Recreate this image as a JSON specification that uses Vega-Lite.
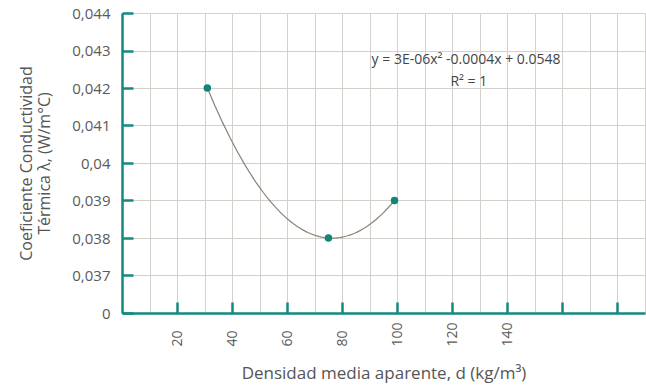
{
  "$schema": "https://vega.github.io/schema/vega-lite/v6.json",
  "width": 523,
  "height": 300,
  "autosize": {"type": "none"},
  "padding": {"left": 122, "top": 13, "right": 1, "bottom": 75},
  "background": "white",
  "config": {
    "view": {"stroke": null},
    "font": "Open Sans",
    "axis": {"labelFont": "Open Sans", "titleFont": "Open Sans", "labelColor": "#5a5a5a", "titleColor": "#555555", "titleFontWeight": "normal"}
  },
  "datasets": {
    "pts": [
      {"d": 31, "lambda": 0.042},
      {"d": 75, "lambda": 0.038},
      {"d": 99, "lambda": 0.039}
    ],
    "eq": [
      {"d": 125, "lambda": 0.04275, "label": "y = 3E-06x² -0.0004x + 0.0548"},
      {"d": 126, "lambda": 0.04215, "label": "R² = 1"}
    ]
  },
  "layer": [
    {
      "data": {"name": "pts"},
      "transform": [
        {"regression": "lambda", "on": "d", "method": "poly", "order": 2, "extent": [31, 99]}
      ],
      "mark": {"type": "line", "color": "#8a8078", "strokeWidth": 1.2},
      "encoding": {
        "x": {
          "field": "d", "type": "quantitative",
          "scale": {"domain": [0, 190], "nice": false, "zero": false},
          "axis": {
            "values": [0, 10, 20, 30, 40, 50, 60, 70, 80, 90, 100, 110, 120, 130, 140, 150, 160, 170, 180, 190],
            "tickCount": 100,
            "grid": true, "gridColor": "#d4d0cc", "gridWidth": 1,
            "domainColor": "#138a7e", "domainWidth": 2.5,
            "tickSize": -11, "tickWidth": 2.5,
            "tickColor": {"condition": {"test": "datum.value % 20 === 0 && datum.value > 0 && datum.value < 190", "value": "#138a7e"}, "value": "transparent"},
            "labelExpr": "(datum.value >= 20 && datum.value <= 140 && datum.value % 20 === 0) ? '' + datum.value : ''",
            "labelAngle": -90, "labelAlign": "left", "labelBaseline": "middle",
            "labelPadding": 44, "labelFontSize": 14, "labelFlush": false, "labelOverlap": false,
            "title": "Densidad media aparente, d (kg/m³)", "titleFontSize": 17, "titlePadding": 19
          }
        },
        "y": {
          "field": "lambda", "type": "quantitative",
          "scale": {"domain": [0.036, 0.044], "nice": false, "zero": false},
          "axis": {
            "values": [0.036, 0.037, 0.038, 0.039, 0.04, 0.041, 0.042, 0.043, 0.044],
            "tickCount": 100,
            "grid": true, "gridColor": "#d4d0cc", "gridWidth": 1,
            "domainColor": "#138a7e", "domainWidth": 2.5,
            "tickSize": -11, "tickWidth": 2.5, "tickColor": "#138a7e",
            "labelExpr": "datum.value < 0.0365 ? '0' : replace(format(datum.value, '.3~f'), '.', ',')",
            "labelFontSize": 15, "labelPadding": 23, "labelFlush": false, "labelOverlap": false,
            "title": ["Coeficiente Conductividad", "Térmica λ, (W/m°C)"], "titleFontSize": 16, "titlePadding": 19
          }
        }
      }
    },
    {
      "data": {"name": "pts"},
      "mark": {"type": "point", "filled": true, "color": "#118579", "opacity": 1, "size": 56},
      "encoding": {
        "x": {"field": "d", "type": "quantitative"},
        "y": {"field": "lambda", "type": "quantitative"}
      }
    },
    {
      "data": {"name": "eq"},
      "mark": {"type": "text", "fontSize": 14, "color": "#444444", "align": "center", "baseline": "middle"},
      "encoding": {
        "x": {"field": "d", "type": "quantitative"},
        "y": {"field": "lambda", "type": "quantitative"},
        "text": {"field": "label"}
      }
    }
  ]
}
